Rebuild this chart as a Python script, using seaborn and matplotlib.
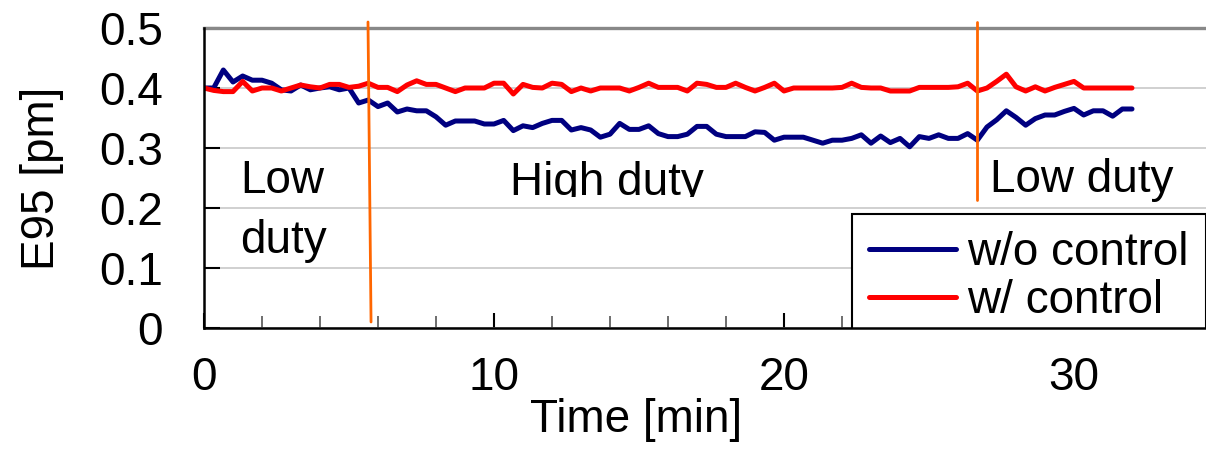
import numpy as np
import pandas as pd
import matplotlib
matplotlib.use("Agg")
import matplotlib.pyplot as plt
from matplotlib.lines import Line2D
from matplotlib.transforms import Bbox, TransformedBbox
import seaborn as sns

# E95 bandwidth sampled every 20 s over a 32-minute run
time_min = np.arange(97) / 3.0

e95_without_control = [
    0.400, 0.400, 0.430, 0.410, 0.420, 0.413, 0.413, 0.408, 0.397, 0.395,
    0.405, 0.397, 0.400, 0.402, 0.397, 0.400, 0.375, 0.380, 0.369, 0.375,
    0.360, 0.365, 0.362, 0.362, 0.352, 0.338, 0.345, 0.345, 0.345, 0.340,
    0.340, 0.346, 0.329, 0.337, 0.334, 0.341, 0.346, 0.346, 0.330, 0.334,
    0.330, 0.318, 0.323, 0.341, 0.331, 0.331, 0.337, 0.324, 0.319, 0.319,
    0.323, 0.336, 0.336, 0.323, 0.319, 0.319, 0.319, 0.327, 0.326, 0.313,
    0.318, 0.318, 0.318, 0.313, 0.308, 0.313, 0.313, 0.316, 0.322, 0.308,
    0.320, 0.309, 0.316, 0.302, 0.319, 0.316, 0.322, 0.316, 0.316, 0.324,
    0.313, 0.335, 0.347, 0.362, 0.351, 0.338, 0.349, 0.355, 0.355, 0.361,
    0.366, 0.355, 0.362, 0.362, 0.353, 0.365, 0.365,
]

e95_with_control = [
    0.400, 0.396, 0.394, 0.394, 0.411, 0.395, 0.400, 0.400, 0.395, 0.400,
    0.405, 0.402, 0.400, 0.406, 0.406, 0.401, 0.403, 0.408, 0.401, 0.401,
    0.394, 0.405, 0.412, 0.406, 0.406, 0.400, 0.394, 0.400, 0.400, 0.400,
    0.408, 0.408, 0.390, 0.406, 0.401, 0.400, 0.408, 0.406, 0.394, 0.400,
    0.395, 0.400, 0.400, 0.400, 0.395, 0.401, 0.408, 0.401, 0.401, 0.401,
    0.395, 0.408, 0.406, 0.401, 0.401, 0.408, 0.401, 0.395, 0.401, 0.408,
    0.395, 0.400, 0.400, 0.400, 0.400, 0.400, 0.401, 0.408, 0.401, 0.400,
    0.400, 0.395, 0.395, 0.395, 0.401, 0.401, 0.401, 0.401, 0.402, 0.408,
    0.395, 0.400, 0.411, 0.423, 0.402, 0.395, 0.402, 0.395, 0.401, 0.406,
    0.411, 0.400, 0.400, 0.400, 0.400, 0.400, 0.400,
]

series_labels = ["w/o control", "w/ control"]
series_colors = ["#000080", "#ff0000"]

y_ticks = [0, 0.1, 0.2, 0.3, 0.4, 0.5]
y_tick_labels = ["0", "0.1", "0.2", "0.3", "0.4", "0.5"]
x_ticks = [0, 10, 20, 30]
x_tick_labels = ["0", "10", "20", "30"]

# duty-cycle phase boundaries: (time at top, time at bottom, lower end of line)
phase_lines = [(5.655, 5.76, 0.01), (26.655, 26.655, 0.213)]
phase_labels = ["Low", "duty", "High duty", "Low duty"]

df = pd.DataFrame({
    "time": np.concatenate([time_min, time_min]),
    "e95": e95_without_control + e95_with_control,
    "series": [series_labels[0]] * len(time_min) + [series_labels[1]] * len(time_min),
})

sns.set_style("white")
plt.rcParams["font.family"] = ["Liberation Sans", "DejaVu Sans"]
plt.rcParams.update({
    "text.color": "black",
    "axes.labelcolor": "black",
    "xtick.color": "black",
    "ytick.color": "black",
})
FS = 33

fig = plt.figure(figsize=(12.06, 4.53), dpi=100)
ax = fig.add_axes([204 / 1206, 1 - 328 / 453, 1015 / 1206, 300 / 453])

sns.lineplot(data=df, x="time", y="e95", hue="series", hue_order=series_labels,
             palette=series_colors, linewidth=3.6, legend=False, ax=ax,
             errorbar=None)
for ln in ax.lines:
    ln.set_solid_capstyle("round")
    ln.set_solid_joinstyle("round")

ax.set_xlim(0, 35)
ax.set_ylim(0, 0.5)

# horizontal grid
ax.set_axisbelow(True)
ax.yaxis.grid(True, color="#c8c8c8", linewidth=1.2)
ax.xaxis.grid(False)

for side in ["left", "bottom"]:
    ax.spines[side].set_color("black")
    ax.spines[side].set_linewidth(1.8)
    ax.spines[side].set_zorder(6)
ax.spines["right"].set_visible(False)
ax.spines["top"].set_color("#888888")
ax.spines["top"].set_linewidth(2.4)

ax.set_yticks(y_ticks)
ax.set_yticklabels(y_tick_labels, fontsize=FS, color="black")
ax.set_xticks(x_ticks)
ax.set_xticklabels(x_tick_labels, fontsize=FS, color="black")
ax.set_xticks(np.arange(0, 35, 2), minor=True)
ax.tick_params(axis="y", direction="in", length=11.5, width=1.5, pad=29.5,
               colors="black", left=True)
ax.tick_params(axis="x", which="major", direction="in", length=10.5, width=1.5,
               pad=20, colors="black", bottom=True)
ax.tick_params(axis="x", which="minor", direction="in", length=8.6, width=1.2,
               color="#555555", bottom=True)

ax.set_xlabel("Time [min]", fontsize=FS, color="black")
ax.xaxis.set_label_coords(0.4256, -0.232)
ax.set_ylabel("E95 [pm]", fontsize=FS, color="black")
ax.yaxis.set_label_coords(-0.138, 0.5)

# phase boundary markers
for t_top, t_bot, y_bot in phase_lines:
    ax.plot([t_top, t_bot], [0.51, y_bot], color="#ff6600", linewidth=2.0,
            clip_on=False, zorder=3)

ax.text(1.25, 0.225, phase_labels[0], fontsize=FS, va="baseline", ha="left")
ax.text(1.25, 0.125, phase_labels[1], fontsize=FS, va="baseline", ha="left")
high = ax.text(10.55, 0.222, phase_labels[2], fontsize=FS, va="baseline", ha="left")
high.set_clip_box(TransformedBbox(Bbox([[0, 0.218], [35, 0.5]]), ax.transData))
high.set_clip_on(True)
ax.text(27.1, 0.227, phase_labels[3], fontsize=FS, va="baseline", ha="left")

handles = [Line2D([], [], color=c, linewidth=3.6, solid_capstyle="round")
           for c in series_colors]
leg = ax.legend(handles, series_labels, loc="lower right",
                bbox_to_anchor=(1206 / 1206, 1 - 340 / 453),
                bbox_transform=fig.transFigure, fontsize=FS, frameon=True,
                fancybox=False, framealpha=1, edgecolor="black",
                borderpad=0.38, borderaxespad=0, handlelength=1.9,
                handletextpad=0.24, labelspacing=0.07)
leg.get_frame().set_linewidth(1.5)
leg.get_frame().set_clip_box(ax.bbox)
leg.get_frame().set_clip_on(True)
leg.set_zorder(5)

fig.savefig("out.png", dpi=100)
